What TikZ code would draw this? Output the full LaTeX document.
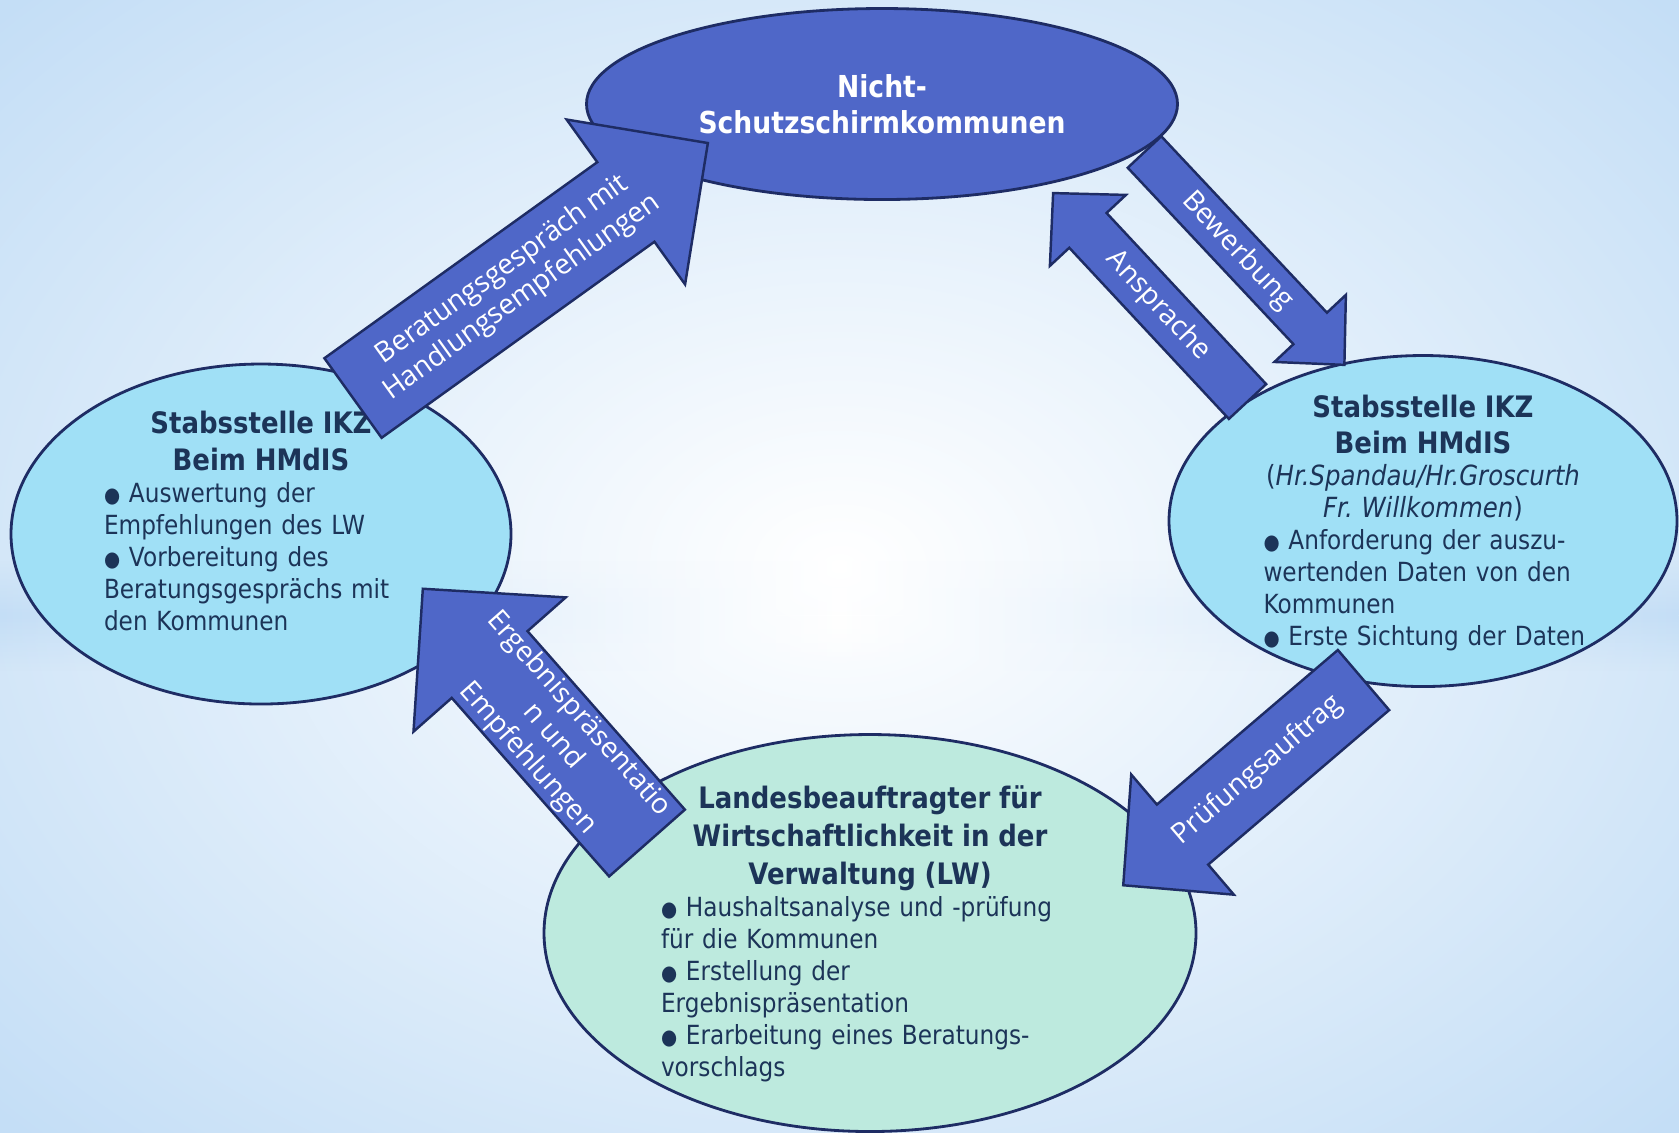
\documentclass[tikz,border=0pt]{standalone}
\usepackage{fontspec}
\newfontfamily\ellfont{DejaVu Sans}[FakeStretch=0.88]
\newfontfamily\arrfont{Open Sans}
\usetikzlibrary{shapes.geometric,fadings}
\frenchspacing

\definecolor{navy}{RGB}{30,44,100}
\definecolor{arrowblue}{RGB}{79,103,200}
\definecolor{cyanfill}{RGB}{160,224,246}
\definecolor{mintfill}{RGB}{189,234,222}
\definecolor{inktext}{RGB}{28,52,88}
\definecolor{bgblue}{RGB}{196,222,246}

\tikzset{
  kreis/.style={ellipse, draw=navy, line width=0.8pt, inner sep=0pt},
  kreistext/.style={font=\ellfont\fontsize{7.5}{9.1}\selectfont, text=inktext,
    align=left, inner sep=0pt},
  blockpfeil/.style={draw=navy, fill=arrowblue, line width=0.7pt, line join=miter},
  pfeiltext/.style={font=\arrfont\fontsize{8}{9.6}\selectfont, text=white,
    align=center, inner sep=0pt, transform shape}
}

% block arrow along local x: length, shaft width, head width, head length
\newcommand{\blockarrow}[4]{%
  \draw[blockpfeil] (0,-#2/2) -- ({#1-#4},-#2/2) -- ({#1-#4},-#3/2) -- (#1,0)
    -- ({#1-#4},#3/2) -- ({#1-#4},#2/2) -- (0,#2/2) -- cycle;}
\newcommand{\bul}{{\fontsize{6}{6}\selectfont ●}\ }
\newcommand{\kopf}{\bfseries\fontsize{8.4}{10.4}\selectfont}

\begin{document}
\begin{tikzpicture}[x=0.1mm, y=-0.1mm]
  \useasboundingbox (0,0) rectangle (1679,1132);
  % background
  \begin{scope}
    \clip (0,0) rectangle (1679,1132);
    \fill[bgblue] (0,0) rectangle (1679,1132);
    \shade[inner color=white, outer color=bgblue] (-300,-250) rectangle (1979,1382);
    \shade[left color=bgblue, right color=bgblue, middle color=white, path fading=north]
      (0,560) rectangle (1679,615);
    \shade[left color=bgblue, right color=bgblue, middle color=white, path fading=south]
      (0,615) rectangle (1679,670);
  \end{scope}

  % ellipses
  \node[kreis, fill=arrowblue, minimum width=59.1mm, minimum height=19.1mm] (nsk) at (882,104) {};
  \node[kreis, fill=cyanfill, minimum width=50mm, minimum height=34mm] (ikzl) at (261,534) {};
  \node[kreis, fill=cyanfill, minimum width=50.8mm, minimum height=33.1mm] (ikzr) at (1423,521) {};
  \node[kreis, fill=mintfill, minimum width=65.2mm, minimum height=39.7mm] (lw) at (870,933) {};

  \node[font=\ellfont\bfseries\fontsize{8.6}{10.4}\selectfont, text=white, align=center]
    (nsktext) at (nsk) {Nicht-\\Schutzschirmkommunen};

  \node[kreistext, text width=31.4mm] (ikzltext) at (261,521) {%
    {\centering\kopf Stabsstelle IKZ\\Beim HMdIS\par}
    \bul Auswertung der\\
    Empfehlungen des LW\\
    \bul Vorbereitung des\\
    Beratungsgesprächs mit\\
    den Kommunen};

  \node[kreistext, text width=31.9mm] (ikzrtext) at (1423,523) {%
    {\centering\kopf Stabsstelle IKZ\\Beim HMdIS\par}
    {\centering\fontsize{7.9}{9.1}\selectfont(\textit{Hr.Spandau/Hr.Groscurth}\\\textit{Fr. Willkommen})\par}
    \bul Anforderung der auszu-\\
    wertenden Daten von den\\
    Kommunen\\
    \mbox{\bul Erste Sichtung der Daten}};

  \node[kreistext, text width=41.8mm] (lwtext) at (870,934) {%
    {\centering\bfseries\fontsize{8.4}{10.8}\selectfont Landesbeauftragter für\\
      Wirtschaftlichkeit in der\\Verwaltung (LW)\par}
    \bul Haushaltsanalyse und -prüfung\\
    für die Kommunen\\
    \bul Erstellung der\\
    Ergebnispräsentation\\
    \bul Erarbeitung eines Beratungs-\\
    vorschlags};

  % arrows
  \begin{scope}[shift={(353,398)}, rotate=35.7]
    \blockarrow{437}{98}{203}{101}
    \node[pfeiltext] (beratung) at (196,0) {Beratungsgespräch mit\\Handlungsempfehlungen};
  \end{scope}
  \begin{scope}[shift={(1144.5,152)}, rotate=-46.8]
    \blockarrow{292}{46}{98}{50}
    \node[pfeiltext] (bewerbung) at (136,0) {Bewerbung};
  \end{scope}
  \begin{scope}[shift={(1247.5,401.5)}, rotate=133]
    \blockarrow{285}{51}{104}{51}
    \node[pfeiltext, rotate=180] (ansprache) at (131,0) {Ansprache};
  \end{scope}
  \begin{scope}[shift={(1363.5,680)}, rotate=220.5]
    \blockarrow{316}{79}{158}{78}
    \node[pfeiltext, rotate=180] (pruefung) at (139,0) {Prüfungsauftrag};
  \end{scope}
  \begin{scope}[shift={(647,843)}, rotate=131.4]
    \blockarrow{339}{101}{203}{101}
    \node[pfeiltext, rotate=180] (ergebnis) at (142,0) {Ergebnispräsentatio\\n und\\Empfehlungen};
  \end{scope}
\end{tikzpicture}
\end{document}
